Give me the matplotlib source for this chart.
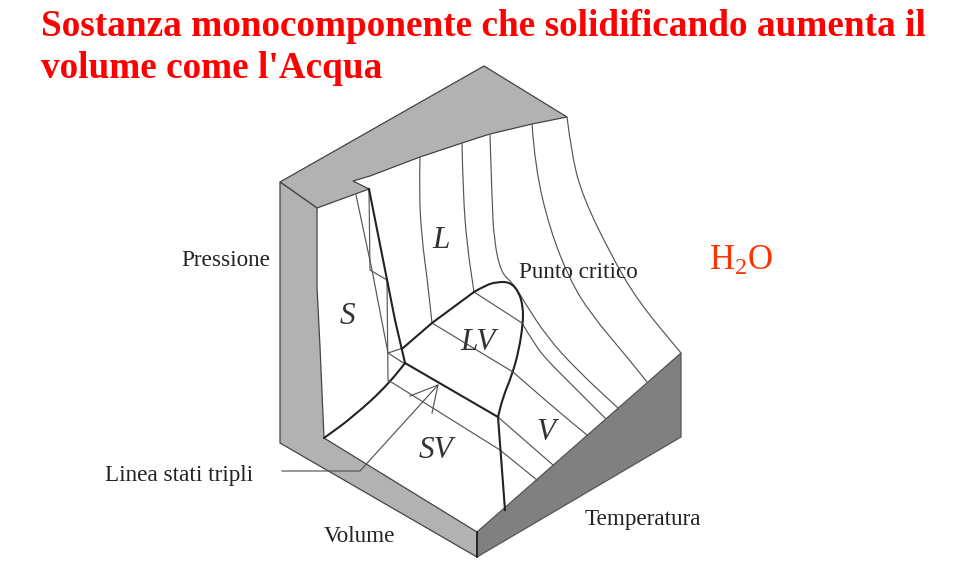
# Superficie P-V-T di una sostanza che solidificando aumenta il volume
import matplotlib
matplotlib.use('Agg')
import matplotlib.pyplot as plt
from matplotlib.path import Path
from matplotlib.patches import PathPatch, Polygon

plt.rcParams['font.family'] = ['Liberation Serif', 'DejaVu Serif']

# drawing outlines (x, y in image pixels)
top_face = [(280, 182), (484, 66), (567, 117), (532, 124), (490, 134), (462, 143),
            (420, 157), (370, 176), (353, 181), (369, 189), (317, 208)]
left_face = [(280, 182), (317, 208), (317, 287), (320, 347), (324, 438),
             (477, 532), (477, 557), (280, 443)]
right_face = [(477, 532), (681, 353), (681, 437), (477, 557)]

# thin curved lines on the surface
iso_1_high = [(420, 157), (419, 193), (422, 240), (427, 277), (432, 323)]
iso_1_low = [(513, 372), (553, 407), (587, 435)]
iso_2_high = [(462, 143), (463, 193), (467, 245), (474, 292)]
iso_2_low = [(522, 323), (535, 345), (547, 360), (570, 383), (606, 419)]
iso_3 = [(490, 135), (492, 200), (494, 240), (501, 273), (513, 283), (525, 303),
         (547, 337), (577, 370), (618, 408)]
iso_4 = [(532, 124), (535, 167), (550, 230), (570, 280), (590, 313), (627, 357), (647, 382)]
iso_5 = [(567, 117), (572, 157), (583, 197), (610, 253), (637, 300), (681, 353)]

# thin straight lines
tie_1 = [(432, 323), (513, 372)]
tie_2 = [(474, 292), (522, 323)]
solid_a = [(356, 195), (372, 270), (388, 353), (405, 364)]
solid_b = [(369, 189), (370, 270), (387, 280), (388, 380), (500, 450), (537, 480)]
tie_solid = [(388, 353), (403, 348)]
tie_low = [(498, 417), (553, 465)]
arrow_line = [(282, 471), (360, 471), (438, 385)]
arrow_barbs = [(410, 396), (438, 385), (432, 413)]

# bold lines
solidus = [(369, 189), (395, 320), (405, 363)]
solid_vapour = [(405, 363), (390, 383), (353, 417), (324, 438)]
triple_line = [(405, 363), (498, 417)]
dome_left = [(403, 348), (432, 323), (474, 292)]
dome = [(474, 292), (486, 285), (497, 282), (510, 282), (519, 292), (523, 307), (523, 323),
        (519, 350), (512, 375), (503, 397), (498, 417)]
vapour_edge = [(498, 417), (505, 510)]

labels = ['Pressione', 'Punto critico', 'Linea stati tripli', 'Volume', 'Temperatura']
label_xy = [(181, 260), (519, 272), (105, 476), (324, 536), (585, 519)]
regions = ['L', 'S', 'LV', 'SV', 'V']
region_xy = [(441, 241), (347, 316), (478, 343), (436, 451), (546, 432)]
title_lines = ['Sostanza monocomponente che solidificando aumenta il', "volume come l'Acqua"]
title_y = [27, 69]


def smooth(points):
    # quadratic curve through the midpoints, corners stay on the read points
    verts = [points[0]]
    codes = [Path.MOVETO]
    for i in range(1, len(points) - 1):
        mid = ((points[i][0] + points[i + 1][0]) / 2, (points[i][1] + points[i + 1][1]) / 2)
        verts += [points[i], mid]
        codes += [Path.CURVE3, Path.CURVE3]
    verts.append(points[-1])
    codes.append(Path.LINETO)
    return Path(verts, codes)


def curve(ax, points, lw, color):
    ax.add_patch(PathPatch(smooth(points), fill=False, lw=lw, ec=color, capstyle='round'))


def poly(ax, points, lw, color):
    xs = [p[0] for p in points]
    ys = [p[1] for p in points]
    ax.plot(xs, ys, lw=lw, color=color, solid_joinstyle='miter')


fig = plt.figure(figsize=(9.56, 5.65), dpi=100)
ax = fig.add_axes([0, 0, 1, 1])
ax.set_xlim(0, 956)
ax.set_ylim(565, 0)
ax.axis('off')

ax.add_patch(Polygon(top_face, fc='#b2b2b2', ec='#444444', lw=0.9))
ax.add_patch(Polygon(left_face, fc='#b2b2b2', ec='#444444', lw=0.9))
ax.add_patch(Polygon(right_face, fc='#808080', ec='#555555', lw=0.9))
poly(ax, [(477, 532), (477, 557)], 1.3, '#222222')

for line in [iso_1_high, iso_1_low, iso_2_high, iso_2_low, iso_3, iso_4, iso_5]:
    curve(ax, line, 0.85, '#555555')
for line in [tie_1, tie_2, solid_a, solid_b, tie_solid, tie_low]:
    poly(ax, line, 0.85, '#555555')
poly(ax, arrow_line, 0.85, '#555555')
poly(ax, arrow_barbs, 0.85, '#555555')

poly(ax, solidus, 1.5, '#222222')
curve(ax, solid_vapour, 1.5, '#222222')
poly(ax, triple_line, 1.5, '#222222')
poly(ax, dome_left, 1.5, '#222222')
curve(ax, dome, 1.5, '#222222')
poly(ax, vapour_edge, 1.5, '#222222')

for name, (x, y) in zip(labels, label_xy):
    ax.text(x, y, name, fontsize=16.7, color='#222222', ha='left', va='center')
for name, (x, y) in zip(regions, region_xy):
    ax.text(x, y, name, fontsize=22.5, style='italic', color='#333333', ha='center', va='center')

for line, y in zip(title_lines, title_y):
    ax.text(41, y, line, fontsize=26.8, fontweight='bold', color='#ff0000', ha='left', va='center')

ax.text(709, 261, r'$\mathregular{H_2O}$', fontsize=25, color='#ff3300', ha='left', va='center',
        math_fontfamily='custom')

fig.savefig('out.png', dpi=100)
